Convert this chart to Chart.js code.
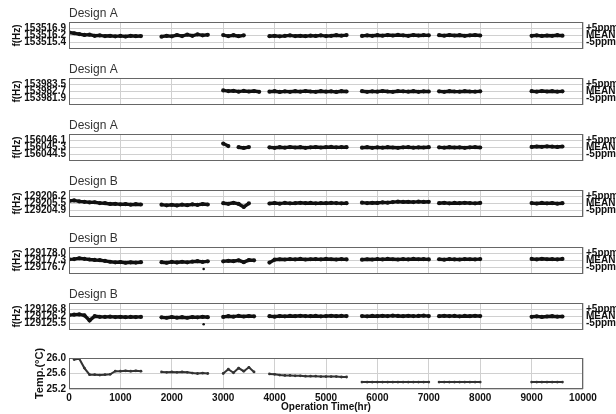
<!DOCTYPE html>
<html><head><meta charset="utf-8">
<script src="https://cdn.jsdelivr.net/npm/chart.js@4.4.0/dist/chart.umd.min.js"></script>
<style>
html,body{margin:0;padding:0;background:#fff;}
#wrap{position:relative;width:616px;height:414px;overflow:hidden;background:#fff;}
canvas{position:absolute;left:0;}
</style></head><body><div id="wrap"></div>
<script>
const _ = null;
// Operation time (hr)
const hours = [
  0,100,200,300,400,500,600,700,800,900,
  1000,1100,1200,1300,1400,1500,1600,1700,1800,1900,
  2000,2100,2200,2300,2400,2500,2600,2700,2800,2900,
  3000,3100,3200,3300,3400,3500,3600,3700,3800,3900,
  4000,4100,4200,4300,4400,4500,4600,4700,4800,4900,
  5000,5100,5200,5300,5400,5500,5600,5700,5800,5900,
  6000,6100,6200,6300,6400,6500,6600,6700,6800,6900,
  7000,7100,7200,7300,7400,7500,7600,7700,7800,7900,
  8000,8100,8200,8300,8400,8500,8600,8700,8800,8900,
  9000,9100,9200,9300,9400,9500,9600,9700
];
// frequency deviation from mean (ppm)
const designA1 = [
  2.2,1.6,1.0,0.4,0.6,-0.2,0.1,-0.4,-0.2,-0.6,
  -0.3,-0.7,-0.2,-0.5,-0.4,_,_,_,-0.8,-0.2,
  -0.6,0.3,-0.4,0.6,-0.2,0.8,0.1,0.5,_,_,
  0.3,-0.4,0.2,-0.5,0.1,_,_,_,_,-0.5,
  -0.2,-0.6,-0.3,0.1,-0.4,-0.2,-0.5,-0.1,-0.3,0.1,
  -0.4,-0.2,0.2,-0.1,0.3,_,_,-0.3,0.1,-0.2,
  0.2,-0.1,0.3,0.0,0.4,0.1,-0.2,0.3,0.0,0.2,
  0.1,_,0.2,-0.1,0.3,0.0,0.2,-0.2,0.1,0.3,
  0.0,_,_,_,_,_,_,_,_,_,
  -0.2,0.1,-0.3,0.0,-0.2,0.2,-0.1,_
];
const designA2 = [
  _,_,_,_,_,_,_,_,_,_,
  _,_,_,_,_,_,_,_,_,_,
  _,_,_,_,_,_,_,_,_,_,
  0.8,0.3,0.5,-0.1,0.4,0.0,0.3,-0.2,_,-0.1,
  0.2,-0.3,0.1,-0.2,0.2,-0.1,0.3,0.0,-0.2,0.2,
  -0.1,0.1,-0.3,0.2,0.0,_,_,0.2,-0.2,0.1,
  -0.1,0.3,0.0,-0.2,0.2,0.1,-0.1,0.2,-0.2,0.1,
  0.0,_,0.1,-0.2,0.2,0.0,-0.1,0.2,0.0,-0.1,
  0.1,_,_,_,_,_,_,_,_,_,
  0.2,-0.1,0.3,0.0,0.2,-0.1,0.1,_
];
const designA3 = [
  _,_,_,_,_,_,_,_,_,_,
  _,_,_,_,_,_,_,_,_,_,
  _,_,_,_,_,_,_,_,_,_,
  2.8,1.0,_,0.2,-0.3,0.3,_,_,_,0.1,
  -0.2,0.2,-0.1,0.3,0.0,0.2,-0.2,0.1,0.3,0.0,
  0.2,0.4,0.1,0.3,0.2,_,_,-0.1,0.2,-0.2,
  0.1,-0.1,0.2,0.0,-0.2,0.1,0.2,-0.1,0.1,0.0,
  0.2,_,0.1,-0.1,0.2,0.0,0.1,-0.2,0.1,0.2,
  0.0,_,_,_,_,_,_,_,_,_,
  0.4,0.7,0.5,0.8,0.6,0.4,0.7,_
];
const designB1 = [
  1.8,2.2,1.5,1.2,0.8,0.9,0.3,0.2,-0.3,-0.2,
  -0.6,-0.4,-0.8,-0.5,-0.7,_,_,_,-0.8,-1.3,
  -0.9,-1.4,-0.8,-1.2,-0.6,-1.0,-0.4,-0.7,_,_,
  0.2,-0.2,0.5,-0.3,-2.4,0.1,_,_,_,0.0,
  0.3,-0.1,0.4,0.1,0.2,0.5,0.2,0.4,0.1,0.3,
  0.2,0.4,0.3,0.1,0.2,_,_,0.6,0.3,0.5,
  0.4,0.8,0.6,1.0,1.3,1.1,1.2,1.0,1.3,1.1,
  1.2,_,0.2,0.5,0.1,0.4,0.2,0.5,0.3,0.1,
  0.4,_,_,_,_,_,_,_,_,_,
  0.3,0.0,0.4,0.1,0.3,-0.1,0.2,_
];
const designB2 = [
  0.8,1.0,1.6,1.2,0.7,0.4,0.2,-0.3,-0.9,-1.3,
  -1.1,-1.6,-1.3,-1.5,-1.2,_,_,_,-1.2,-1.6,
  -1.0,-1.4,-0.9,-1.3,-0.8,-0.5,-1.0,-0.6,_,_,
  -0.6,-0.2,-0.5,0.1,-1.2,0.3,0.1,_,_,-1.5,
  0.6,0.9,0.7,1.0,0.8,1.1,0.7,0.9,1.0,0.8,
  1.1,0.9,0.7,1.0,0.8,_,_,0.6,0.9,0.7,
  1.0,0.8,1.1,0.9,0.7,1.0,0.8,1.1,0.9,1.0,
  0.8,_,0.9,0.6,1.0,0.8,0.7,1.0,0.9,0.8,
  1.0,_,_,_,_,_,_,_,_,_,
  1.1,0.8,1.2,0.9,1.0,0.8,1.1,_
];
const designB3 = [
  1.0,1.3,1.5,0.8,-2.8,0.2,-0.2,-0.3,-0.1,-0.4,
  -0.2,-0.5,-0.3,-0.4,-0.3,_,_,_,-0.6,-0.9,
  -0.4,-0.8,-0.5,-0.9,-0.4,-0.6,-0.2,-0.5,_,_,
  -0.3,0.2,-0.1,0.4,0.0,0.3,0.1,_,_,0.2,
  -0.1,0.3,0.1,0.4,0.2,0.5,0.3,0.2,0.4,0.1,
  0.3,0.5,0.2,0.4,0.3,_,_,0.3,0.1,0.4,
  0.2,0.5,0.3,0.6,0.4,0.2,0.5,0.3,0.4,0.6,
  0.3,_,0.2,0.5,0.3,0.4,0.1,0.4,0.2,0.5,
  0.3,_,_,_,_,_,_,_,_,_,
  -0.2,0.1,-0.3,0.0,0.2,-0.1,0.0,_
];
// isolated outlier readings (ppm)
const outlierHours = [2620];
const designB2Outlier = [-6.0];
const designB3Outlier = [-5.5];
// temperature (deg C)
const temperature = [
  _,25.96,25.98,25.74,25.57,25.57,25.56,25.57,25.58,25.66,
  25.66,25.67,25.66,25.67,25.66,_,_,_,25.64,25.63,
  25.64,25.63,25.64,25.63,25.61,25.60,25.61,25.60,_,_,
  25.60,25.71,25.62,25.74,25.66,25.76,25.64,_,_,25.59,
  25.58,25.56,25.55,25.55,25.54,25.54,25.53,25.53,25.53,25.52,
  25.52,25.52,25.52,25.51,25.51,_,_,25.38,25.38,25.38,
  25.38,25.38,25.38,25.38,25.38,25.38,25.38,25.38,25.38,25.38,
  25.38,_,25.38,25.38,25.38,25.38,25.38,25.38,25.38,25.38,
  25.38,_,_,_,_,_,_,_,_,_,
  25.38,25.38,25.38,25.38,25.38,25.38,25.38,_
];
const panelTitles = ['Design A','Design A','Design A','Design B','Design B','Design B'];
const freqSeries = [designA1, designA2, designA3, designB1, designB2, designB3];
const freqOutliers = [null, null, null, null, designB2Outlier, designB3Outlier];
const freqTickLabels = [
  ['153515.4','153516.2','153516.9'],
  ['153981.9','153982.7','153983.5'],
  ['156044.5','156045.3','156046.1'],
  ['129204.9','129205.5','129206.2'],
  ['129176.7','129177.3','129178.0'],
  ['129125.5','129126.2','129126.8']
];
const ppmTicks = [-5, 0, 5];
const ppmLabels = ['-5ppm', 'MEAN', '+5ppm'];
const tempTicks = [25.2, 25.6, 26.0];
const tempTickLabels = ['25.2', '25.6', '26.0'];
const timeTicks = [0,1000,2000,3000,4000,5000,6000,7000,8000,9000,10000];
const timeTickLabels = ['0','1000','2000','3000','4000','5000','6000','7000','8000','9000','10000'];

// ---- layout / style ----
const FONT = "'Liberation Sans', Arial, sans-serif";
const plotTops = [22, 78, 134, 190, 247, 303, 358];
const FREQ_H = 27, TITLE_SPACE = 18;
const LEFT_W = 69, RIGHT_W = 33;
const GRID = '#d0d0d0', BOX = '#666', INK = '#111';

const wrap = document.getElementById('wrap');
function addCanvas(top, h) {
  const c = document.createElement('canvas');
  c.width = 616; c.height = h;
  c.style.top = top + 'px'; c.style.width = '616px'; c.style.height = h + 'px';
  wrap.appendChild(c);
  return c;
}
const boxPlugin = {
  id: 'panelBox',
  afterDatasetsDraw(chart, args, opts) {
    const ctx = chart.ctx, a = chart.chartArea;
    const L = Math.round(a.left), T = Math.round(a.top), R = Math.round(a.right), B = Math.round(a.bottom);
    ctx.save();
    ctx.strokeStyle = BOX; ctx.lineWidth = 1;
    ctx.strokeRect(L + 0.5, T + 0.5, R - L - 1, B - T - 1);
    if (opts.title) {
      ctx.fillStyle = '#333'; ctx.font = '12px ' + FONT;
      ctx.textAlign = 'left'; ctx.textBaseline = 'bottom';
      ctx.fillText(opts.title, a.left, a.top - 2);
    }
    ctx.restore();
  }
};
function pts(xs, ys) { return xs.map((h, i) => ({ x: h, y: ys[i] })); }
function xAxis(showLabels) {
  return {
    type: 'linear', min: 0, max: 10000,
    afterBuildTicks: s => { s.ticks = timeTicks.map(v => ({ value: v })); },
    grid: { color: GRID, drawTicks: false },
    border: { display: false },
    ticks: { display: showLabels, autoSkip: false, maxRotation: 0, padding: 3, color: INK,
      font: { family: FONT, size: 10, weight: 'bold' }, callback: (v, i) => timeTickLabels[i] },
    title: { display: showLabels, text: 'Operation Time(hr)', color: INK,
      font: { family: FONT, size: 10, weight: 'bold' }, padding: { top: 0, bottom: 1 } },
    afterFit: s => { s.height = showLabels ? 25 : 0; s.paddingLeft = 0; s.paddingRight = 0; }
  };
}

freqSeries.forEach((series, p) => {
  const h = TITLE_SPACE + FREQ_H + 3;
  const cv = addCanvas(plotTops[p] - TITLE_SPACE, h);
  const labels = freqTickLabels[p];
  const datasets = [{
    data: pts(hours, series), borderColor: INK, borderWidth: 3.4, tension: 0,
    pointRadius: 2.1, pointBackgroundColor: INK, pointBorderWidth: 0, spanGaps: false
  }];
  if (freqOutliers[p]) datasets.push({
    data: pts(outlierHours, freqOutliers[p]), showLine: false,
    pointRadius: 1.3, pointBackgroundColor: INK, pointBorderWidth: 0
  });
  new Chart(cv, {
    type: 'line',
    data: { datasets },
    options: {
      responsive: false, animation: false, devicePixelRatio: 1,
      layout: { padding: { top: TITLE_SPACE, bottom: 3, left: 0, right: 0 }, autoPadding: false },
      plugins: { legend: { display: false }, tooltip: { enabled: false }, panelBox: { title: panelTitles[p] } },
      scales: {
        x: xAxis(false),
        y: {
          position: 'left', min: -9.6, max: 9.6,
          afterBuildTicks: s => { s.ticks = ppmTicks.map(v => ({ value: v })); },
          grid: { color: GRID, drawTicks: false }, border: { display: false },
          ticks: { autoSkip: false, padding: 3, color: INK, font: { family: FONT, size: 10, weight: 'bold' },
            callback: (v, i) => labels[i] },
          title: { display: true, text: 'f(Hz)', color: INK, font: { family: FONT, size: 10, weight: 'bold' },
            padding: { top: 11, bottom: 0 } },
          afterFit: s => { s.width = LEFT_W; s.paddingTop = 0; s.paddingBottom = 0; }
        },
        y2: {
          position: 'right', min: -9.6, max: 9.6,
          afterBuildTicks: s => { s.ticks = ppmTicks.map(v => ({ value: v })); },
          grid: { display: false, drawTicks: false }, border: { display: false },
          ticks: { autoSkip: false, padding: 3, color: INK, font: { family: FONT, size: 10, weight: 'bold' },
            callback: (v, i) => ppmLabels[i] },
          afterFit: s => { s.width = RIGHT_W; s.paddingTop = 0; s.paddingBottom = 0; }
        }
      }
    },
    plugins: [boxPlugin]
  });
});

// temperature panel
(function () {
  const top = plotTops[6] - TITLE_SPACE;
  const cv = addCanvas(top, 414 - top);
  new Chart(cv, {
    type: 'line',
    data: { datasets: [{
      data: pts(hours, temperature), borderColor: '#333', borderWidth: 2, tension: 0,
      pointRadius: 1.4, pointBackgroundColor: '#333', pointBorderWidth: 0, spanGaps: false
    }] },
    options: {
      responsive: false, animation: false, devicePixelRatio: 1,
      layout: { padding: { top: TITLE_SPACE, bottom: 0, left: 0, right: RIGHT_W }, autoPadding: false },
      plugins: { legend: { display: false }, tooltip: { enabled: false }, panelBox: {} },
      scales: {
        x: xAxis(true),
        y: {
          position: 'left', min: 25.2, max: 26.0,
          afterBuildTicks: s => { s.ticks = tempTicks.map(v => ({ value: v })); },
          grid: { color: GRID, drawTicks: false }, border: { display: false },
          ticks: { autoSkip: false, padding: 3, color: INK, font: { family: FONT, size: 10, weight: 'bold' },
            callback: (v, i) => tempTickLabels[i] },
          title: { display: true, text: 'Temp.(°C)', color: INK, font: { family: FONT, size: 11, weight: 'bold' },
            padding: { top: 33, bottom: 0 } },
          afterFit: s => { s.width = LEFT_W; s.paddingTop = 0; s.paddingBottom = 0; }
        }
      }
    },
    plugins: [boxPlugin]
  });
})();
</script>
</body></html>
